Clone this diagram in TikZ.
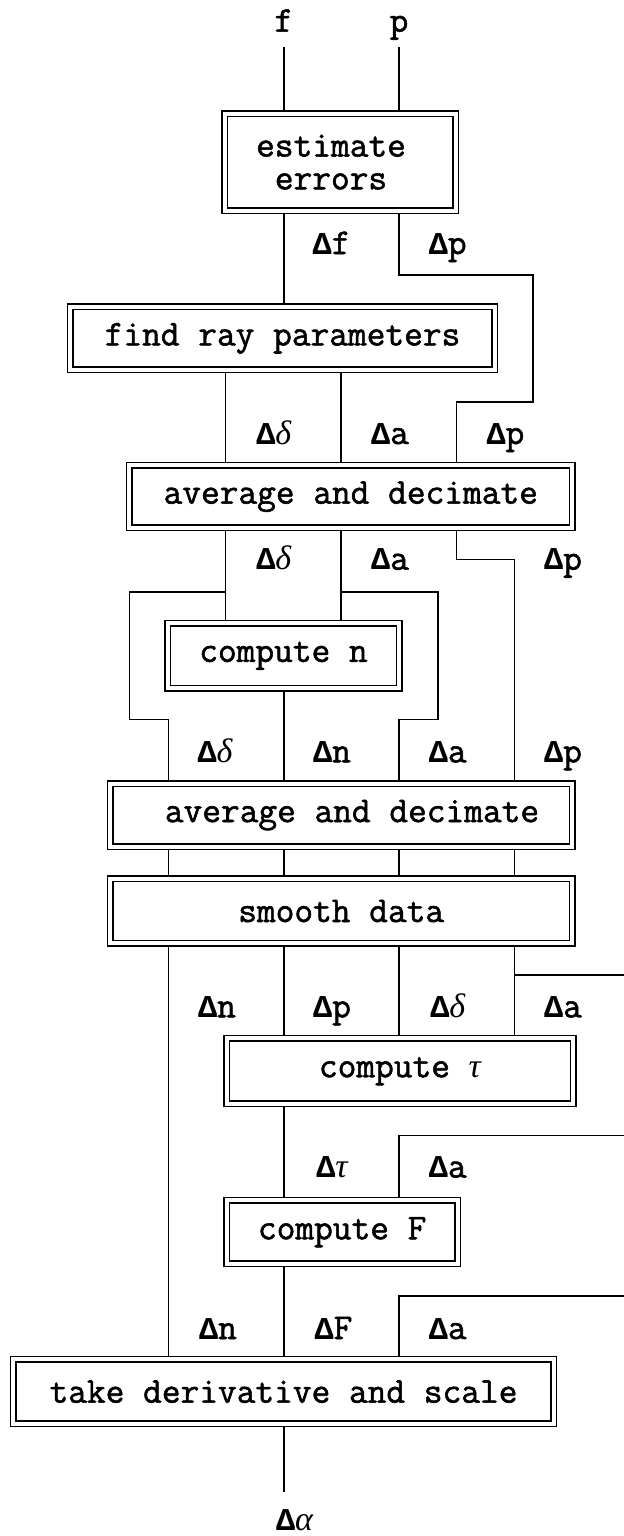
\documentclass[tikz,border=0pt]{standalone}
\usepackage{fontspec}
\newfontfamily\mono{Latin Modern Mono}[FakeBold=1.5]
\newfontfamily\deltafont{Liberation Mono}
\newfontfamily\grserif{Liberation Serif}
\newcommand{\D}[1]{{\deltafont\fontsize{15.9}{15.9}\selectfont\bfseries Δ}#1}
\newcommand{\G}[1]{{\grserif\itshape\fontsize{17}{17}\selectfont #1}}
\begin{document}
\begin{tikzpicture}[x=0.5pt,y=-0.5pt,
  box/.style={draw, double, double distance=2pt, line width=0.75pt, inner sep=0pt,
    outer sep=1.75pt, font=\mono\fontsize{18.17}{16.4}\selectfont, align=center},
  lab/.style={inner sep=0pt, anchor=base, font=\mono\fontsize{18.17}{16.4}\selectfont},
  wire/.style={line width=0.8pt, line cap=rect, line join=miter}]
\fill[white] (0,0) rectangle (624,1536);
\useasboundingbox (0,0) rectangle (624,1536);

% columns
\coordinate (xA) at (129.3,0);
\coordinate (x1) at (168.3,0);
\coordinate (x2) at (225.6,0);
\coordinate (x3) at (283.7,0);
\coordinate (x4) at (341,0);
\coordinate (x5) at (399,0);
\coordinate (x6) at (437.7,0);
\coordinate (x7) at (456.4,0);
\coordinate (x8) at (514.5,0);
\coordinate (x9) at (533,0);
\coordinate (xR) at (624,0);
% rows of bends
\coordinate (r1) at (0,275);
\coordinate (r2) at (0,401.7);
\coordinate (r3) at (0,559.5);
\coordinate (r4) at (0,591.7);
\coordinate (r5) at (0,719.5);
\coordinate (r6) at (0,975);
\coordinate (r7) at (0,1135.5);
\coordinate (r8) at (0,1296);
\coordinate (out) at (283.7,1491);

% boxes
\node[box, minimum width=115.45pt, minimum height=48.4pt] (est) at (340.2,162.15)
  {estimate\hspace*{9.2pt}\\errors\hspace*{9.2pt}};
\node[box, minimum width=212.15pt, minimum height=31.6pt] (ray) at (282.5,338.35)
  {find ray parameters};
\node[box, minimum width=221.5pt, minimum height=31.25pt] (avg1) at (350.75,496.7)
  {average and decimate};
\node[box, minimum width=115.75pt, minimum height=32.4pt] (compn) at (283.5,655.85)
  {compute n};
\node[box, minimum width=231.05pt, minimum height=31.4pt] (avg2) at (341.2,815.15)
  {\hspace*{10.8pt}average and decimate};
\node[box, minimum width=231.05pt, minimum height=32.25pt] (smooth) at (341.2,911)
  {smooth data};
\node[box, minimum width=173.15pt, minimum height=32.75pt] (tau) at (399.9,1071.2)
  {compute \G{τ}};
\node[box, minimum width=115.45pt, minimum height=31.75pt] (F) at (342.2,1232.2)
  {compute F};
\node[box, minimum width=270.05pt, minimum height=32.25pt] (der) at (283.5,1391.7)
  {take derivative and scale};

% labels
\node[lab] (f) at (283.7,31.7) {f};
\node[lab] (p) at (399,31.7) {p};
\node[lab] (l1) at (331.5,254) {\D{f}};
\node[lab] (l2) at (447.7,254) {\D{p}};
\node[lab] (l3) at (273.8,444) {\D{\G{δ}}};
\node[lab] (l4) at (390,444) {\D{a}};
\node[lab] (l5) at (505.4,444) {\D{p}};
\node[lab] (l6) at (273.8,569.7) {\D{\G{δ}}};
\node[lab] (l7) at (390,569.7) {\D{a}};
\node[lab] (l8) at (563,569.7) {\D{p}};
\node[lab] (l9) at (215,762.3) {\D{\G{δ}}};
\node[lab] (l10) at (332,762.3) {\D{n}};
\node[lab] (l11) at (447.7,762.3) {\D{a}};
\node[lab] (l12) at (563,762.3) {\D{p}};
\node[lab] (l13) at (217,1017.3) {\D{n}};
\node[lab] (l14) at (332,1017.3) {\D{p}};
\node[lab] (l15) at (447.7,1017.3) {\D{\G{δ}}};
\node[lab] (l16) at (563,1017.3) {\D{a}};
\node[lab] (l17) at (332,1177.5) {\D{\G{τ}}};
\node[lab] (l18) at (447.7,1177.5) {\D{a}};
\node[lab] (l19) at (218,1339) {\D{n}};
\node[lab] (l20) at (333.5,1339) {\D{F}};
\node[lab] (l21) at (447.7,1339) {\D{a}};
\node[lab] (alpha) at (294.5,1530) {\D{\G{α}}};

% connectors
\begin{scope}[wire]
\draw ([yshift=-8pt]f.base) -- (est.north -| f);
\draw ([yshift=-8pt]p.base) -- (est.north -| p);
\draw (est.south -| x3) -- (ray.north -| x3);
\draw (est.south -| x5) -- (r1 -| x5) -- (r1 -| x9) -- (r2 -| x9) -- (r2 -| x7) -- (avg1.north -| x7);
\draw (ray.south -| x2) -- (avg1.north -| x2);
\draw (ray.south -| x4) -- (avg1.north -| x4);
\draw (avg1.south -| x7) -- (r3 -| x7) -- (r3 -| x8) -- (avg2.north -| x8);
\draw (avg1.south -| x2) -- (compn.north -| x2);
\draw (avg1.south -| x4) -- (compn.north -| x4);
\draw (r4 -| x2) -- (r4 -| xA) -- (r5 -| xA) -- (r5 -| x1) -- (avg2.north -| x1);
\draw (r4 -| x4) -- (r4 -| x6) -- (r5 -| x6) -- (r5 -| x5) -- (avg2.north -| x5);
\draw (compn.south -| x3) -- (avg2.north -| x3);
\foreach \c in {x1,x3,x5,x8} \draw (avg2.south -| \c) -- (smooth.north -| \c);
\draw (smooth.south -| x1) -- (der.north -| x1);
\foreach \c in {x3,x5,x8} \draw (smooth.south -| \c) -- (tau.north -| \c);
\draw (r6 -| x8) -- (r6 -| xR);
\draw (tau.south -| x3) -- (F.north -| x3);
\draw (r7 -| xR) -- (r7 -| x5) -- (F.north -| x5);
\draw (F.south -| x3) -- (der.north -| x3);
\draw (r8 -| xR) -- (r8 -| x5) -- (der.north -| x5);
\draw (der.south -| x3) -- (out);
\end{scope}
\end{tikzpicture}
\end{document}
